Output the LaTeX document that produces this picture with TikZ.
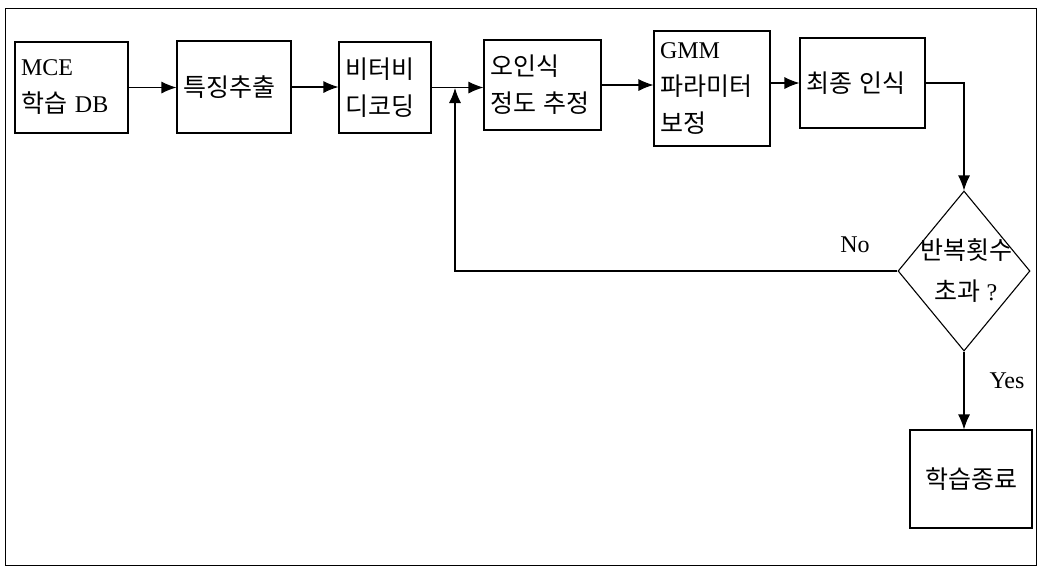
\documentclass[tikz,border=0pt]{standalone}
\usepackage{fontspec}
\setmainfont{Liberation Serif}
\newfontfamily\kr{Noto Sans CJK KR}
\newcommand{\kf}[1]{{\kr\fontsize{25}{37}\selectfont #1}}
\usetikzlibrary{arrows.meta,shapes.geometric}
\begin{document}
\begin{tikzpicture}[x=1pt,y=-1pt,
  every node/.style={font=\fontsize{24}{37}\selectfont},
  blk/.style={draw,line width=1.1pt,inner xsep=6pt,inner ysep=0pt,align=left},
  arr/.style={line width=1.1pt,-{Latex[length=15pt,width=12pt]}}]
\useasboundingbox (0,0) rectangle (1046,574);
\draw[line width=0.8pt] (5,8) rectangle (1036,565);
\node[blk,text width=101pt,minimum height=91pt] (mce) at (71.5,87.5) {MCE\\\kf{학습} DB};
\node[blk,text width=102pt,minimum height=92pt] (feat) at (234,87) {\kf{특징추출}};
\node[blk,text width=80pt,minimum height=91pt] (vit) at (385,87.5) {\kf{비터비}\\\kf{디코딩}};
\node[blk,text width=105pt,minimum height=90pt] (err) at (542.5,85) {\kf{오인식}\\\kf{정도 추정}};
\node[blk,text width=104pt,minimum height=115pt] (gmm) at (712,88.5) {GMM\\\kf{파라미터}\\\kf{보정}};
\node[blk,text width=113pt,minimum height=90pt] (fin) at (862.5,83) {\kf{최종 인식}};
\node[draw,line width=1.1pt,diamond,minimum width=132pt,minimum height=160pt,inner sep=0pt] (dia) at (964,271) {};
\node[align=center,font=\fontsize{24}{41}\selectfont] (diat) at (966,271) {\kf{반복횟수}\\\kf{초과} ?};
\node[blk,align=center,text width=110pt,minimum height=98pt] (end) at (971,479) {\kf{학습종료}};
\node (no) at (855,245) {No};
\node (yes) at (1007,381) {Yes};
\coordinate (fbtop) at (455,88);
\draw[arr] (mce.east) -- (mce.east -| feat.west);
\draw[arr] (feat.east) -- (feat.east -| vit.west);
\draw[arr] (vit.east) -- (vit.east -| err.west);
\draw[arr] (err.east) -- (err.east -| gmm.west);
\draw[arr] (fin.east -| gmm.east) -- (fin.west);
\draw[arr] (fin.east) -| (dia.north);
\draw[arr] (dia.west) -| (fbtop);
\draw[arr] (dia.south) -- (dia.south |- end.north);
\end{tikzpicture}
\end{document}
